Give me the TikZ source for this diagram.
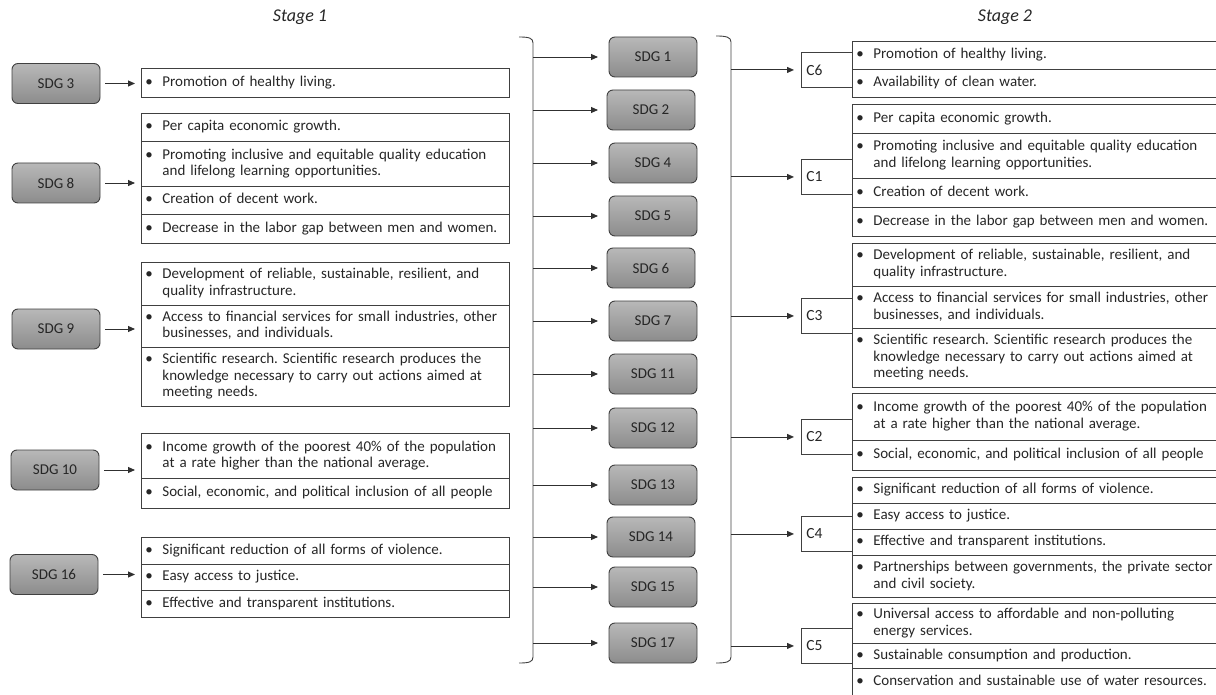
\documentclass[tikz,border=0pt]{standalone}
\usepackage{fontspec}
\setmainfont{Carlito}
\usetikzlibrary{arrows.meta}
\definecolor{lineC}{HTML}{404040}
\definecolor{textC}{HTML}{262626}
\definecolor{sdgT}{HTML}{B8B8B8}
\definecolor{sdgB}{HTML}{8C8C8C}
\definecolor{arrC}{HTML}{303030}
\frenchspacing
\newcommand\bul[1]{\makebox[17pt][l]{\textbullet}\begin{tabular}[t]{@{}l@{}}#1\end{tabular}}
\begin{document}
\begin{tikzpicture}[x=1pt,y=-1pt,
  cellL/.style={draw=lineC, line width=0.9pt, anchor=north west, inner xsep=4pt, inner ysep=0pt,
    text width=360pt, align=left, font=\fontsize{15}{16.5}\selectfont, text=textC},
  cellR/.style={cellL, text width=365pt},
  sdg/.style={draw=lineC, line width=0.9pt, rounded corners=6pt, top color=sdgT, bottom color=sdgB,
    minimum width=88pt, minimum height=40pt, inner sep=0pt, font=\fontsize{15}{16}\selectfont, text=textC},
  cbox/.style={draw=lineC, line width=0.9pt, anchor=north west, minimum height=35pt, inner xsep=5pt,
    inner ysep=0pt, text width=41pt, align=left, font=\fontsize{15.5}{16}\selectfont, text=textC},
  arr/.style={draw=arrC, line width=0.9pt, -{Triangle[length=7pt,width=6pt]}},
  brk/.style={draw=lineC, line width=0.9pt},
  stage/.style={font=\fontsize{18}{20}\selectfont\itshape, text=textC}]
\useasboundingbox (0,0) rectangle (1216,695);

% stage labels
\node[stage] (st1) at (300,17) {Stage 1};
\node[stage] (st2) at (1005,17) {Stage 2};

% ---------- Stage 1 left SDG boxes ----------
\node[sdg] (s3) at (56,83.5) {SDG 3};
\node[sdg] (s8) at (56,183) {SDG 8};
\node[sdg] (s9) at (56,329) {SDG 9};
\node[sdg] (s10) at (55,470) {SDG 10};
\node[sdg] (s16) at (54,574.5) {SDG 16};

% ---------- Stage 1 target lists ----------
\node[cellL, minimum height=29pt] (a3) at (141,68) {\bul{Promotion of healthy living.}};

\node[cellL, minimum height=28.5pt] (b1) at (141,113) {\bul{Per capita economic growth.}};
\node[cellL, minimum height=44.5pt] (b2) at (141,141.5) {\bul{Promoting inclusive and equitable quality education\\and lifelong learning opportunities.}};
\node[cellL, minimum height=28.5pt] (b3) at (141,186) {\bul{Creation of decent work.}};
\node[cellL, minimum height=28.5pt] (b4) at (141,214.5) {\bul{Decrease in the labor gap between men and women.}};

\node[cellL, minimum height=42.7pt] (d1) at (141,262) {\bul{Development of reliable, sustainable, resilient, and\\quality infrastructure.}};
\node[cellL, minimum height=42.6pt] (d2) at (141,304.7) {\bul{Access to financial services for small industries, other\\businesses, and individuals.}};
\node[cellL, minimum height=58.7pt] (d3) at (141,347.3) {\bul{Scientific research. Scientific research produces the\\knowledge necessary to carry out actions aimed at\\meeting needs.}};

\node[cellL, minimum height=45pt] (e1) at (141,433) {\bul{Income growth of the poorest 40\% of the population\\at a rate higher than the national average.}};
\node[cellL, minimum height=30pt] (e2) at (141,478) {\bul{Social, economic, and political inclusion of all people}};

\node[cellL, minimum height=26.7pt] (f1) at (141,537) {\bul{Significant reduction of all forms of violence.}};
\node[cellL, minimum height=26.6pt] (f2) at (141,563.7) {\bul{Easy access to justice.}};
\node[cellL, minimum height=26.7pt] (f3) at (141,590.3) {\bul{Effective and transparent institutions.}};

\draw[arr, shorten <=5pt, shorten >=6pt] (s3.east) -- (s3.east -| a3.west);
\draw[arr, shorten <=5pt, shorten >=6pt] (s8.east) -- (s8.east -| b1.west);
\draw[arr, shorten <=5pt, shorten >=6pt] (s9.east) -- (s9.east -| d1.west);
\draw[arr, shorten <=5pt, shorten >=6pt] (s10.east) -- (s10.east -| e1.west);
\draw[arr, shorten <=5pt, shorten >=6pt] (s16.east) -- (s16.east -| f1.west);

% ---------- brackets ----------
\coordinate (lbT) at (519,37);
\coordinate (lbB) at (519,663);
\coordinate (lbx) at (533,350);
\draw[brk] (lbT) .. controls (529,37) and (533,38) .. (533,43) -- (533,657) .. controls (533,662) and (529,663) .. (lbB);
\coordinate (rbT) at (716,36);
\coordinate (rbB) at (716,663);
\coordinate (rbx) at (731,350);
\draw[brk] (rbT) .. controls (726,36) and (731,37) .. (731,42) -- (731,657) .. controls (731,662) and (726,663) .. (rbB);

% ---------- middle SDG boxes ----------
\node[sdg] (m1) at (653,57) {SDG 1};
\node[sdg] (m2) at (651,110) {SDG 2};
\node[sdg] (m4) at (653,163) {SDG 4};
\node[sdg] (m5) at (653,216) {SDG 5};
\node[sdg] (m6) at (651,268) {SDG 6};
\node[sdg] (m7) at (653,321) {SDG 7};
\node[sdg] (m11) at (653,374) {SDG 11};
\node[sdg] (m12) at (653,428) {SDG 12};
\node[sdg] (m13) at (653,485) {SDG 13};
\node[sdg] (m14) at (651,537) {SDG 14};
\node[sdg] (m15) at (653,587) {SDG 15};
\node[sdg] (m17) at (653,643) {SDG 17};

\foreach \m in {m1,m2,m4,m5,m6,m7,m11,m12,m13,m14,m15,m17}{
  \draw[arr, shorten >=11pt] (lbx |- \m.west) -- (\m.west -| 609,0);
}

% ---------- Stage 2 C boxes ----------
\node[cbox] (c6) at (801,52) {C6};
\node[cbox] (c1) at (801,159) {C1};
\node[cbox] (c3) at (801,298) {C3};
\node[cbox] (c2) at (801,419) {C2};
\node[cbox] (c4) at (801,516) {C4};
\node[cbox] (c5) at (801,628) {C5};

\foreach \c in {c6,c1,c3,c2,c4,c5}{
  \draw[arr, shorten >=7pt] (rbx |- \c.west) -- (\c.west);
}

% ---------- Stage 2 lists ----------
\node[cellR, minimum height=28pt] (g1) at (852,41) {\bul{Promotion of healthy living.}};
\node[cellR, minimum height=28pt] (g2) at (852,69) {\bul{Availability of clean water.}};

\node[cellR, minimum height=29pt] (h1) at (852,104) {\bul{Per capita economic growth.}};
\node[cellR, minimum height=45pt] (h2) at (852,133) {\bul{Promoting inclusive and equitable quality education\\and lifelong learning opportunities.}};
\node[cellR, minimum height=29pt] (h3) at (852,178) {\bul{Creation of decent work.}};
\node[cellR, minimum height=29pt] (h4) at (852,207) {\bul{Decrease in the labor gap between men and women.}};

\node[cellR, minimum height=42.7pt] (i1) at (852,243) {\bul{Development of reliable, sustainable, resilient, and\\quality infrastructure.}};
\node[cellR, minimum height=42.6pt] (i2) at (852,285.7) {\bul{Access to financial services for small industries, other\\businesses, and individuals.}};
\node[cellR, minimum height=58.7pt] (i3) at (852,328.3) {\bul{Scientific research. Scientific research produces the\\knowledge necessary to carry out actions aimed at\\meeting needs.}};

\node[cellR, minimum height=46.5pt] (j1) at (852,393) {\bul{Income growth of the poorest 40\% of the population\\at a rate higher than the national average.}};
\node[cellR, minimum height=30.5pt] (j2) at (852,439.5) {\bul{Social, economic, and political inclusion of all people}};

\node[cellR, minimum height=26pt] (k1) at (852,477) {\bul{Significant reduction of all forms of violence.}};
\node[cellR, minimum height=26pt] (k2) at (852,503) {\bul{Easy access to justice.}};
\node[cellR, minimum height=26pt] (k3) at (852,529) {\bul{Effective and transparent institutions.}};
\node[cellR, minimum height=42pt] (k4) at (852,555) {\bul{Partnerships between governments, the private sector\\and civil society.}};

\node[cellR, minimum height=40pt] (l1) at (852,603) {\bul{Universal access to affordable and non-polluting\\energy services.}};
\node[cellR, minimum height=25pt] (l2) at (852,643) {\bul{Sustainable consumption and production.}};
\node[cellR, minimum height=27pt] (l3) at (852,668) {\bul{Conservation and sustainable use of water resources.}};
\end{tikzpicture}
\end{document}
